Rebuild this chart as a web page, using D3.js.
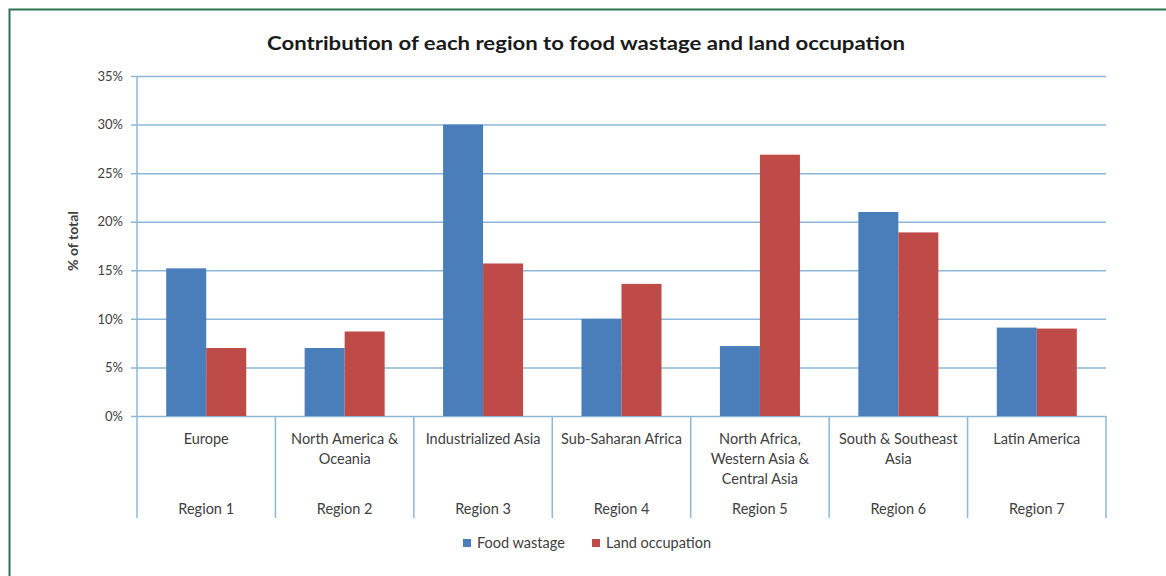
<!DOCTYPE html>
<meta charset="utf-8">
<body style="margin:0;background:#fff">
  <style>
    text { font-family: Lato, "Open Sans", sans-serif; fill: #404040; }
    .title { font-weight: bold; fill: #1a1a1a; }
  </style>
  <div id="chart"></div>
  <script src="https://d3js.org/d3.v7.min.js"></script>
  <script>
    // data
    var categories = ["Europe", "North America & Oceania", "Industrialized Asia", "Sub-Saharan Africa",
      "North Africa, Western Asia & Central Asia", "South & Southeast Asia", "Latin America"];
    var categoryLines = [["Europe"], ["North America &", "Oceania"], ["Industrialized Asia"], ["Sub-Saharan Africa"],
      ["North Africa,", "Western Asia &", "Central Asia"], ["South & Southeast", "Asia"], ["Latin America"]];
    var regionLabels = ["Region 1", "Region 2", "Region 3", "Region 4", "Region 5", "Region 6", "Region 7"];
    var seriesNames = ["Food wastage", "Land occupation"];
    var foodWastage = [0.152, 0.070, 0.300, 0.100, 0.072, 0.210, 0.091];
    var landOccupation = [0.070, 0.087, 0.157, 0.136, 0.269, 0.189, 0.090];
    var yTicks = [0, 0.05, 0.10, 0.15, 0.20, 0.25, 0.30, 0.35];
    var colors = ["#4a7ebb", "#be4b48"];

    var width = 1166, height = 576;
    var margin = { top: 76, right: 60, bottom: 160, left: 137 };
    var plotW = 1106 - margin.left, plotH = 416 - margin.top;
    var gridColor = "#8bb8d8";
    var labelSize = "14.5px";

    var svg = d3.select("#chart").append("svg")
      .attr("width", width)
      .attr("height", height);

    // green frame (only top and left visible)
    svg.append("path")
      .attr("d", "M9.5," + height + "V9.5H" + width)
      .attr("fill", "none")
      .attr("stroke", "#2f7350")
      .attr("stroke-width", 2);

    svg.append("text")
      .attr("class", "title")
      .attr("x", 586)
      .attr("y", 50)
      .attr("text-anchor", "middle")
      .attr("textLength", 638)
      .attr("lengthAdjust", "spacingAndGlyphs")
      .style("font-size", "18px")
      .text("Contribution of each region to food wastage and land occupation");

    var g = svg.append("g")
      .attr("transform", "translate(" + margin.left + "," + margin.top + ")");

    var x = d3.scaleBand()
      .domain(categories)
      .range([0, plotW]);

    var xs = d3.scaleBand()
      .domain(seriesNames)
      .range([0, x.bandwidth()])
      .paddingOuter(0.73);

    var y = d3.scaleLinear()
      .domain([0, 0.35])
      .range([plotH, 0]);

    // gridlines + y axis
    var yAxis = g.append("g")
      .call(d3.axisLeft(y)
        .tickValues(yTicks)
        .tickSize(-plotW)
        .tickPadding(14)
        .tickFormat(d3.format(".0%")));
    yAxis.select(".domain").remove();
    yAxis.selectAll(".tick line")
      .attr("x1", -6)
      .attr("stroke", gridColor)
      .attr("stroke-width", 1.5);
    yAxis.selectAll(".tick text")
      .style("font-family", "Lato, sans-serif")
      .style("font-size", "13px")
      .attr("fill", "#555");

    // y axis line running down through the category area
    g.append("line")
      .attr("x1", 0).attr("x2", 0)
      .attr("y1", 0).attr("y2", 518 - margin.top)
      .attr("stroke", gridColor)
      .attr("stroke-width", 1.5);

    // category dividers
    g.selectAll(".divider")
      .data(categories)
      .enter().append("line")
      .attr("class", "divider")
      .attr("x1", function(d) { return x(d) + x.step(); })
      .attr("x2", function(d) { return x(d) + x.step(); })
      .attr("y1", plotH)
      .attr("y2", 518 - margin.top)
      .attr("stroke", gridColor)
      .attr("stroke-width", 1.5);

    // bars
    var groups = g.selectAll(".grp")
      .data(categories)
      .enter().append("g")
      .attr("class", "grp")
      .attr("transform", function(d) { return "translate(" + x(d) + ",0)"; });

    groups.selectAll("rect")
      .data(function(d, i) {
        return [
          { s: seriesNames[0], v: foodWastage[i] },
          { s: seriesNames[1], v: landOccupation[i] }
        ];
      })
      .enter().append("rect")
      .attr("x", function(d) { return xs(d.s); })
      .attr("y", function(d) { return y(d.v); })
      .attr("width", xs.bandwidth())
      .attr("height", function(d) { return plotH - y(d.v); })
      .attr("fill", function(d, i) { return colors[i]; });

    // category names + region numbers
    groups.each(function(d, i) {
      var t = d3.select(this).append("text")
        .attr("text-anchor", "middle")
        .style("font-size", labelSize);
      categoryLines[i].forEach(function(line, k) {
        t.append("tspan")
          .attr("x", x.bandwidth() / 2)
          .attr("y", 444 - margin.top + k * 20)
          .text(line);
      });
      d3.select(this).append("text")
        .attr("x", x.bandwidth() / 2)
        .attr("y", 514 - margin.top)
        .attr("text-anchor", "middle")
        .style("font-size", labelSize)
        .text(regionLabels[i]);
    });

    // y axis title
    svg.append("text")
      .attr("transform", "translate(78,241) rotate(-90)")
      .attr("text-anchor", "middle")
      .style("font-size", "14px")
      .style("font-weight", "bold")
      .attr("fill", "#333")
      .text("% of total");

    // legend
    var legendX = [463, 592];
    var legend = svg.selectAll(".legend")
      .data(seriesNames)
      .enter().append("g")
      .attr("class", "legend")
      .attr("transform", function(d, i) { return "translate(" + legendX[i] + ",539)"; });
    legend.append("rect")
      .attr("width", 8)
      .attr("height", 8)
      .attr("fill", function(d, i) { return colors[i]; });
    legend.append("text")
      .attr("x", 14)
      .attr("y", 9)
      .style("font-size", labelSize)
      .text(function(d) { return d; });
  </script>
</body>
